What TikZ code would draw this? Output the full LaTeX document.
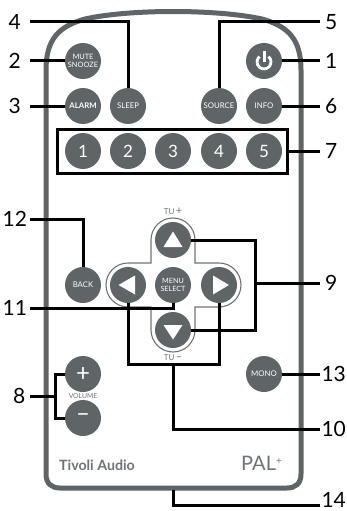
\documentclass[tikz,border=0pt]{standalone}
\usepackage{fontspec}
\setmainfont{Lato}
\definecolor{remotegrey}{HTML}{5F6467}
\definecolor{printgrey}{HTML}{6E7376}
\tikzset{
  btn/.style={circle,fill=remotegrey,text=white,minimum size=36pt,inner sep=0pt,align=center,font=\fontsize{7.8}{7.8}\selectfont},
  numbtn/.style={btn,font=\fontsize{17}{17}\selectfont},
  callout/.style={draw=black,line width=3pt},
  leftlab/.style={anchor=east,inner sep=0pt,minimum width=30pt,font=\fontsize{21}{21}\selectfont},
  rightlab/.style={anchor=west,inner sep=0pt,minimum width=22pt,font=\fontsize{21}{21}\selectfont},
  printed/.style={text=printgrey,inner sep=0pt}
}
\begin{document}
\begin{tikzpicture}[x=1pt,y=-1pt]
        \useasboundingbox (0,0) rectangle (346,511);

        % remote body
        \draw[remotegrey,line width=5pt]
          (46,70) .. controls (46,38) and (60,26) .. (85,19)
          .. controls (130,9) and (216,9) .. (262,19)
          .. controls (287,26) and (301,38) .. (301,70)
          -- (301,474) .. controls (301,484) and (295,488) .. (287,488)
          -- (60,488) .. controls (52,488) and (46,484) .. (46,474) -- cycle;
        \coordinate (bodybottom) at (173,490);

        % arrow pad outline
        \draw[printgrey,line width=1.1pt]
          (151,240) arc (180:360:22) -- (195,263) -- (219,263) arc (-90:90:22)
          -- (195,307) -- (195,330) arc (0:180:22) -- (151,307) -- (128,307)
          arc (90:270:22) -- (151,263) -- cycle;

        \begin{scope}[every node/.style={btn}]
          \node (power)  at (264,61)  {};
          \node[font=\fontsize{7.4}{7.6}\selectfont] (mute) at (83,61) {MUTE\\SNOOZE};
          \node (alarm)  at (83,106)  {\bfseries ALARM};
          \node (sleep)  at (128,106) {SLEEP};
          \node (source) at (219,106) {SOURCE};
          \node (info)   at (264,106) {INFO};
          \node (back)   at (83,285)  {BACK};
          \node[font=\fontsize{7.2}{8.2}\selectfont] (menu) at (173,285) {MENU\\SELECT};
          \node (mono)   at (264,374) {MONO};
          \node (up)     at (173,240) {};
          \node (left)   at (128,285) {};
          \node (right)  at (219,285) {};
          \node (down)   at (173,330) {};
        \end{scope}

        \begin{scope}[every node/.style={numbtn}]
          \node (num1)  at (83,151)  {1};
          \node (num2)  at (128,151) {2};
          \node (num3)  at (173,151) {3};
          \node (num4)  at (219,151) {4};
          \node (num5)  at (264,151) {5};
          \node (plus)  at (83,374)  {\fontsize{24}{24}\selectfont +};
          \node (minus) at (83,418)  {\fontsize{24}{24}\selectfont –};
        \end{scope}

        % glyphs on the buttons
        \fill[white] ([shift={(-9.5,7)}]up.center) -- ([shift={(9.5,7)}]up.center) -- ([shift={(0,-8.5)}]up.center) -- cycle;
        \fill[white] ([shift={(-9.5,-5)}]down.center) -- ([shift={(9.5,-5)}]down.center) -- ([shift={(0,9.5)}]down.center) -- cycle;
        \fill[white] ([shift={(7,-9.5)}]left.center) -- ([shift={(7,9.5)}]left.center) -- ([shift={(-9.5,0)}]left.center) -- cycle;
        \fill[white] ([shift={(-6,-9.5)}]right.center) -- ([shift={(-6,9.5)}]right.center) -- ([shift={(10,0)}]right.center) -- cycle;
        \draw[white,line width=2.8pt] ([shift={(4.5,-4.4)}]power.center) arc (-50:230:7);
        \draw[white,line width=3pt] ([shift={(0,-10)}]power.center) -- ([shift={(0,1)}]power.center);

        % printed text
        \node[printed,font=\fontsize{8}{8}\selectfont] (tuplus) at (173,211) {TU\,\fontsize{11}{11}\selectfont +};
        \node[printed,font=\fontsize{8}{8}\selectfont] (tuminus) at (173,358) {TU\,\fontsize{11}{11}\selectfont –};
        \node[printed,font=\fontsize{6.8}{6.8}\selectfont] (volume) at (83,396) {VOLUME};
        \node[printed,anchor=west,font=\fontsize{14.2}{14.2}\selectfont\bfseries] (brand) at (59,465) {Tivoli Audio};
        \node[printed,anchor=west,font=\fontsize{20}{20}\selectfont] (model) at (241,463) {PAL\raisebox{6pt}{\fontsize{10}{10}\selectfont +}};

        % box round the number row
        \node[callout,rectangle,minimum width=230pt,minimum height=44pt,inner sep=0pt] (numbox) at (172.5,151) {};

        % labels
        \node[leftlab] (lab2)  at (30,61)  {2};
        \node[leftlab] (lab3)  at (30,106) {3};
        \node[leftlab] (lab4)  at (30,22)  {4};
        \node[leftlab] (lab12) at (30,219) {12};
        \node[leftlab] (lab11) at (30,308) {11};
        \node[leftlab,minimum width=21pt] (lab8) at (30,396) {8};
        \node[rightlab] (lab5)  at (320,22)  {5};
        \node[rightlab] (lab1)  at (320,61)  {1};
        \node[rightlab] (lab6)  at (320,106) {6};
        \node[rightlab] (lab7)  at (320,151) {7};
        \node[rightlab] (lab9)  at (320,283) {9};
        \node[rightlab,minimum width=27pt] (lab13) at (320,374) {13};
        \node[rightlab,minimum width=27pt] (lab10) at (320,429) {10};
        \node[rightlab,minimum width=27pt] (lab14) at (320,500) {14};

        % joints of the forked connectors
        \coordinate (fork9)  at (255,283);
        \coordinate (fork10) at (173,364);
        \coordinate (fork8)  at (55,396);
        \coordinate (end14)  at (320,505);

        \begin{scope}[every edge/.style={callout}]
          \path (lab2.east)  edge (mute.west);
          \path (lab3.east)  edge (alarm.west);
          \path (power.east) edge (lab1.west);
          \path (info.east)  edge (lab6.west);
          \path (numbox.east) edge (lab7.west);
          \path (mono.east)  edge (lab13.west);
          \path (fork9)      edge (lab9.west);
          \path (lab8.east)  edge (fork8);
        \end{scope}

        \draw[callout] (lab4.east) -| (sleep.north);
        \draw[callout] (lab5.west) -| (source.north);
        \draw[callout] (lab12.east) -| (back.north);
        \draw[callout] (lab11.east) -| (menu.south);
        \draw[callout] (up.east) -| (fork9) |- (down.east);
        \draw[callout] (left.south) |- (fork10) -| (right.south);
        \draw[callout] (fork10) |- (lab10.west);
        \draw[callout] (plus.west) -| (fork8) |- (minus.west);
        \draw[callout] (bodybottom) |- (end14);

\end{tikzpicture}
\end{document}
